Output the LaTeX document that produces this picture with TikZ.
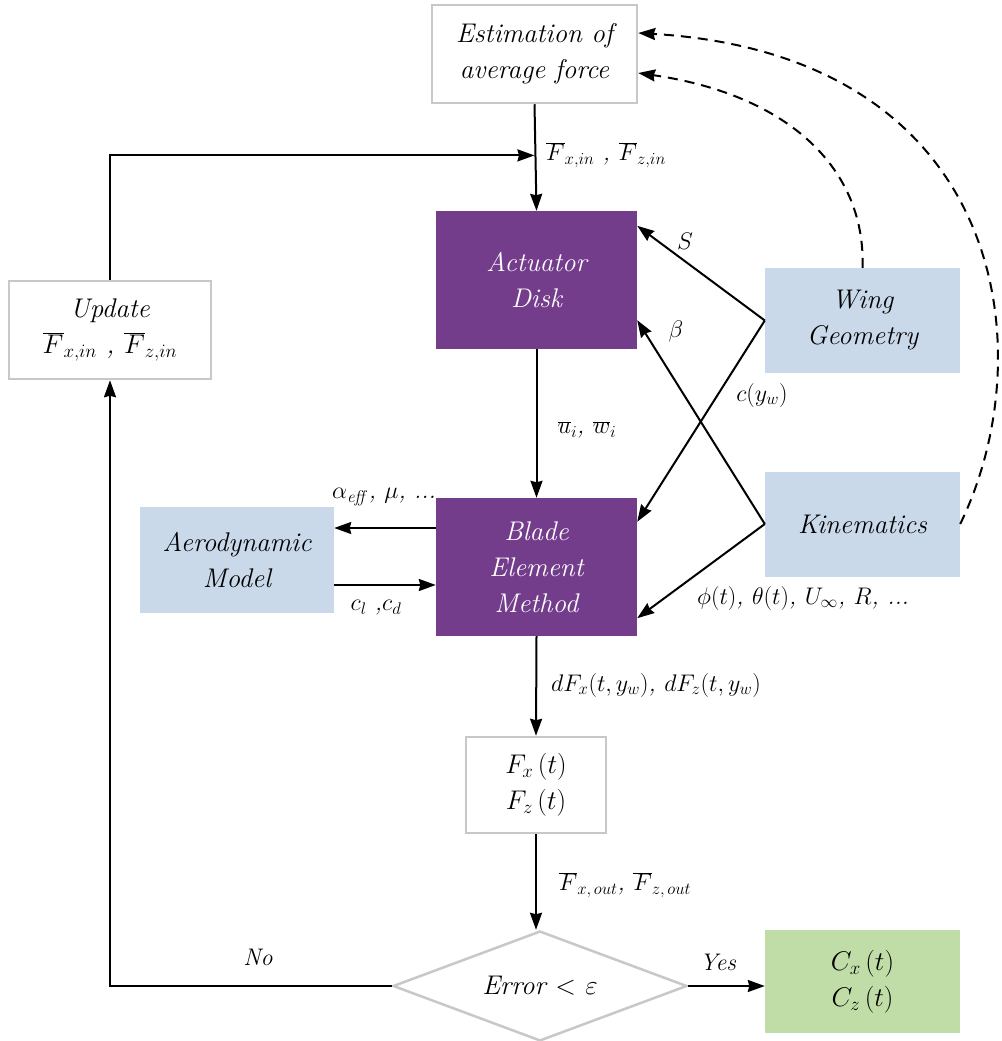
\RequirePackage{fix-cm}
\documentclass[tikz,border=0pt]{standalone}
\usetikzlibrary{arrows.meta,shapes.geometric,calc}
\definecolor{purp}{HTML}{743D8C}
\definecolor{lblue}{HTML}{C9D9EA}
\definecolor{lgreen}{HTML}{C1DDA7}
\definecolor{bgray}{HTML}{C8C8C8}
\newcommand\boxfnt{\fontsize{27}{36}\selectfont\itshape}
\newcommand\lblfnt{\fontsize{24}{28}\selectfont\itshape}
\begin{document}
\begin{tikzpicture}[x=1pt,y=-1pt,
  gbox/.style={draw=bgray, line width=2.5pt, fill=white, align=center, font=\boxfnt, inner sep=0pt},
  pbox/.style={fill=purp, text=white, align=center, font=\boxfnt, inner sep=0pt, minimum width=201pt, minimum height=138pt},
  bbox/.style={fill=lblue, align=center, font=\boxfnt, inner sep=0pt, minimum width=195pt, minimum height=105pt},
  arr/.style={line width=2pt, -{Stealth[length=17pt,width=12pt,inset=1.5pt]}},
  dsh/.style={line width=2pt, dash pattern=on 10pt off 7pt, -{Stealth[length=17pt,width=12pt,inset=1.5pt]}},
  lbl/.style={font=\lblfnt, inner sep=0pt}]
\useasboundingbox (0,0) rectangle (1001,1041);
% nodes
\node[gbox, minimum width=205pt, minimum height=98pt] (est) at (534.5,54) {Estimation of\\average force};
\node[pbox] (act) at (536.5,280) {Actuator\\Disk};
\node[gbox, minimum width=202pt, minimum height=98pt] (upd) at (110,330) {Update\\$\overline{F}_{x,in}$ , $\overline{F}_{z,in}$};
\node[bbox] (wing) at (862.5,320.5) {Wing\\Geometry};
\node[bbox] (kin) at (862.5,524) {Kinematics};
\node[pbox] (blade) at (536.5,567) {Blade\\Element\\Method};
\node[bbox, minimum width=194pt, minimum height=106pt] (aero) at (237,560) {Aerodynamic\\Model};
\node[gbox, minimum width=140pt, minimum height=96pt] (fbox) at (536,785) {$F_x\,(t)$\\$F_z\,(t)$};
\node[diamond, draw=bgray, line width=2.5pt, fill=white, aspect=2.67, minimum width=294pt, minimum height=110pt, inner sep=0pt, font=\boxfnt] (dia) at (540,986) {Error $<$ $\varepsilon$};
\node[fill=lgreen, minimum width=195pt, minimum height=103pt, align=center, font=\boxfnt, inner sep=0pt] (cbox) at (862.5,981.5) {$C_x\,(t)$\\$C_z\,(t)$};
% main vertical arrows
\draw[arr] (est.south) -- (act.north);
\draw[arr] (act.south) -- (blade.north);
\draw[arr] (blade.south) -- (fbox.north);
\draw[arr] (fbox.south) -- (dia.north -| fbox.south);
\draw[arr] (dia.east) -- (cbox.west |- dia.east);
% feedback loop
\coordinate (fin) at ($(est.south)!0.48!(act.north)$);
\draw[arr] (upd.north) |- ([xshift=-1pt]fin);
\draw[arr] (dia.west) -| (upd.south);
% aero arrows
\draw[arr] ([yshift=39pt]blade.west) -- ([yshift=39pt]blade.west -| aero.east);
\draw[arr] ([yshift=-25pt]aero.east) -- ([yshift=-25pt]aero.east -| blade.west);
% wing and kinematics arrows
\draw[arr] (wing.west) -- ([yshift=-15pt]act.north east);
\draw[arr] (wing.west) -- ([yshift=-24pt]blade.north east);
\draw[arr] (kin.west) -- ([yshift=29pt]act.south east);
\draw[arr] (kin.west) -- ([yshift=18pt]blade.south east);
% dashed curves
\draw[dsh] (wing.north) .. controls (866,170) and (790,95) .. ([yshift=-19pt]est.east);
\draw[dsh] (kin.east) .. controls (1045,350) and (1005,55) .. ([yshift=21pt]est.east);
% labels
\node[lbl, anchor=west] (l1) at (546,155) {$\overline{F}_{x,in}$ , $\overline{F}_{z,in}$};
\node[lbl] (l2) at (587,430) {$\overline{u}_i$, $\overline{w}_i$};
\node[lbl] (l3) at (384,497) {$\alpha_{\mathit{eff}}$, $\mu$, ...};
\node[lbl] (l4) at (376,608) {$c_l$ ,$c_d$};
\node[lbl] (l5) at (685,241) {$S$};
\node[lbl] (l6) at (676,331) {$\beta$};
\node[lbl] (l7) at (762,395) {$c(y_w)$};
\node[lbl] (l8) at (803,598) {$\phi(t)$, $\theta(t)$, $U_\infty$, $R$, ...};
\node[lbl] (l9) at (656,685) {$dF_x(t,y_w)$, $dF_z(t,y_w)$};
\node[lbl] (l10) at (625,885) {$\overline{F}_{x,\,out}$, $\overline{F}_{z,\,out}$};
\node[lbl] (l11) at (258,957) {No};
\node[lbl] (l12) at (718,962) {Yes};
\end{tikzpicture}
\end{document}
